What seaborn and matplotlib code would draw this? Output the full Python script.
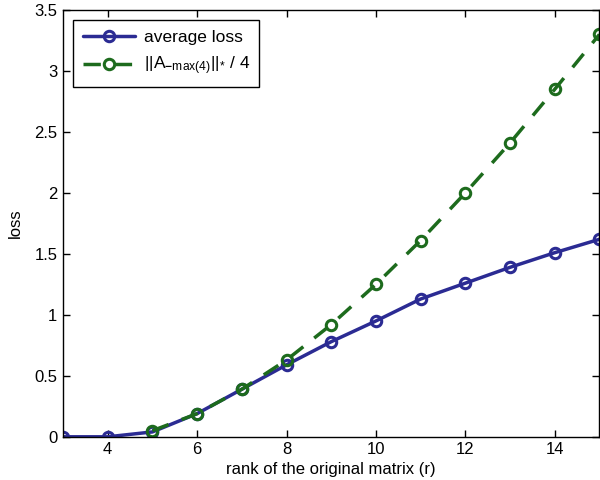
import numpy as np
import pandas as pd
import seaborn as sns
import matplotlib
matplotlib.use("Agg")
import matplotlib.pyplot as plt

# values
rank_avg = [3, 4, 5, 6, 7, 8, 9, 10, 11, 12, 13, 14, 15]
avg_loss = [0.0, 0.0, 0.04, 0.19, 0.39, 0.59, 0.78, 0.95, 1.13, 1.26, 1.39, 1.51, 1.62]
rank_norm = [5, 6, 7, 8, 9, 10, 11, 12, 13, 14, 15]
norm_loss = [0.05, 0.19, 0.39, 0.63, 0.92, 1.25, 1.61, 2.00, 2.41, 2.85, 3.30]

x_ticks = [4, 6, 8, 10, 12, 14]
y_ticks = [0, 0.5, 1, 1.5, 2, 2.5, 3, 3.5]
y_tick_labels = ["0", "0.5", "1", "1.5", "2", "2.5", "3", "3.5"]

label_avg = "average loss"
label_norm = r"$||\mathrm{A}_{\mathbf{-}\mathrm{max(4)}}||_{*}$ / 4"

sns.set_style("ticks")
plt.rcParams["font.family"] = ["Liberation Sans", "DejaVu Sans"]
plt.rcParams["mathtext.fontset"] = "custom"
plt.rcParams["mathtext.rm"] = "Liberation Sans"
plt.rcParams["mathtext.bf"] = "Liberation Sans:bold"
plt.rcParams["mathtext.it"] = "Liberation Sans:italic"
plt.rcParams["text.color"] = "black"
plt.rcParams["axes.labelcolor"] = "black"
plt.rcParams["xtick.color"] = "black"
plt.rcParams["ytick.color"] = "black"

df_avg = pd.DataFrame({"rank": rank_avg, "loss": avg_loss})
df_norm = pd.DataFrame({"rank": rank_norm, "loss": norm_loss})

blue = "#2b2b93"
green = "#1d6b1d"

fig = plt.figure(figsize=(6, 4.8), dpi=100)
ax = fig.add_axes([0.105, 0.09, 0.894, 0.889])

sns.lineplot(data=df_avg, x="rank", y="loss", ax=ax, color=blue, lw=2.5,
             marker="o", markersize=7.5, markerfacecolor="none",
             markeredgecolor=blue, markeredgewidth=2.2, label=label_avg)
sns.lineplot(data=df_norm, x="rank", y="loss", ax=ax, color=green, lw=2.5,
             marker="o", markersize=7.5, markerfacecolor="none",
             markeredgecolor=green, markeredgewidth=2.2, label=label_norm)
ax.lines[-1].set_dashes([5, 4])

ax.set_xlim(3, 15)
ax.set_ylim(0, 3.5)
ax.set_xticks(x_ticks)
ax.set_yticks(y_ticks)
ax.set_yticklabels(y_tick_labels)
ax.tick_params(direction="in", top=True, right=True, length=5, labelsize=12,
               width=1, pad=4)
for s in ax.spines.values():
    s.set_linewidth(1)
    s.set_color("black")

ax.set_xlabel("rank of the original matrix (r)", fontsize=12, labelpad=3)
ax.set_ylabel("loss", fontsize=12, labelpad=8)

leg = ax.legend(loc="upper left", fontsize=12.5, frameon=True, fancybox=False,
                borderaxespad=0.6, handlelength=3.0, borderpad=0.55,
                handletextpad=0.5, labelspacing=0.55)
leg.get_frame().set_edgecolor("black")
leg.get_frame().set_linewidth(1)
leg.get_frame().set_alpha(1)

plt.savefig("out.png", dpi=100)
plt.close()
